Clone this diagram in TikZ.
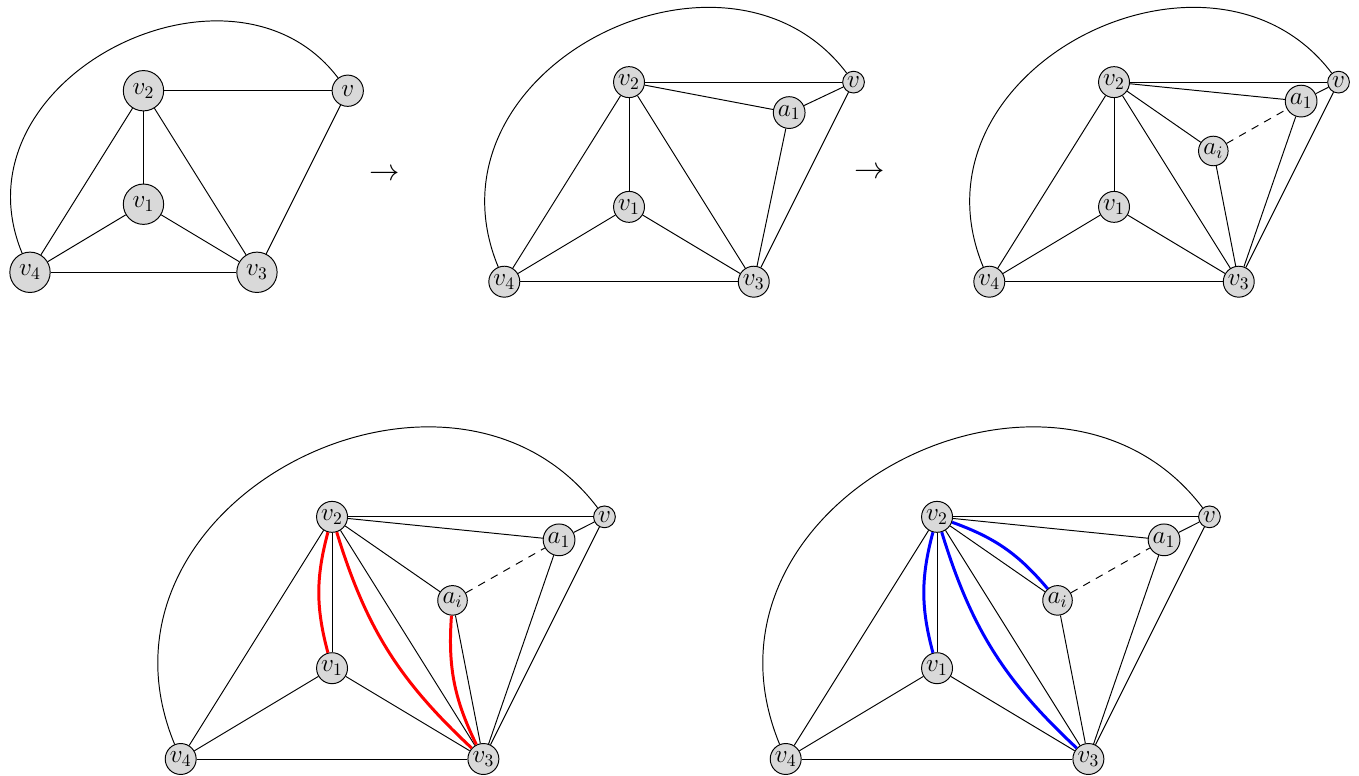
\documentclass[tikz,border=0pt]{standalone}
\usepackage{amsmath, amssymb}
\usepackage{xcolor}
\usepackage{tikz}
\usetikzlibrary{positioning, calc}

\begin{document}
\begin{tikzpicture}[
    x=0.02cm, y=0.02cm, line width=0.55pt,
    vtx/.style={draw, circle, fill=black!15, inner sep=1pt, font=\Large},
    bigvtx/.style={vtx, inner sep=2.9pt},
    outer/.style={line width=0.55pt},
    swap/.style={dash pattern=on 4.4pt off 3.8pt},
    redpath/.style={red, line width=1.7pt},
    bluepath/.style={blue, line width=1.7pt},
    step arrow/.style={font=\LARGE}
]
\useasboundingbox (0,0) rectangle (1359,775);

% first graph
\begin{scope}[shift={(30,502.7)}, x=0.908cm, y=0.908cm]
\node[bigvtx] (p1v4) at (0,0)     {$v_4$};
\node[bigvtx] (p1v3) at (5,0)     {$v_3$};
\node[bigvtx] (p1v1) at (2.5,1.5) {$v_1$};
\node[bigvtx] (p1v2) at (2.5,4)   {$v_2$};
\node[bigvtx] (p1v)  at (7,4)     {$v$};
\draw (p1v2) -- (p1v);
\draw (p1v2) -- (p1v1);
\draw (p1v2) -- (p1v4);
\draw (p1v2) -- (p1v3);
\draw (p1v1) -- (p1v4);
\draw (p1v1) -- (p1v3);
\draw (p1v4) -- (p1v3);
\draw (p1v)  -- (p1v3);
\draw[outer] (p1v4) .. controls (-1.76,4.26) and (4.45,7.37) .. (p1v);
\end{scope}

\node[step arrow] (arrA) at (385,600) {$\rightarrow$};

% after adding a_1
\begin{scope}[shift={(504.3,493.3)}, x=0.998cm, y=0.998cm]
\node[vtx] (p2v4) at (0,0)       {$v_4$};
\node[vtx] (p2v3) at (5,0)       {$v_3$};
\node[vtx] (p2v1) at (2.5,1.5)   {$v_1$};
\node[vtx] (p2v2) at (2.5,4)     {$v_2$};
\node[vtx] (p2v)  at (7,4)       {$v$};
\node[vtx] (p2a1) at (5.71,3.39) {$a_1$};
\draw (p2v2) -- (p2v);
\draw (p2v2) -- (p2a1);
\draw (p2a1) -- (p2v);
\draw (p2a1) -- (p2v3);
\draw (p2v2) -- (p2v1);
\draw (p2v2) -- (p2v4);
\draw (p2v2) -- (p2v3);
\draw (p2v1) -- (p2v4);
\draw (p2v1) -- (p2v3);
\draw (p2v4) -- (p2v3);
\draw (p2v)  -- (p2v3);
\draw[outer] (p2v4) .. controls (-1.76,4.26) and (4.45,7.37) .. (p2v);
\end{scope}

\node[step arrow] (arrB) at (870,602) {$\rightarrow$};

% after adding a_i
\begin{scope}[shift={(989.3,493.3)}, x=0.998cm, y=0.998cm]
\node[vtx] (p3v4) at (0,0)       {$v_4$};
\node[vtx] (p3v3) at (5,0)       {$v_3$};
\node[vtx] (p3v1) at (2.5,1.5)   {$v_1$};
\node[vtx] (p3v2) at (2.5,4)     {$v_2$};
\node[vtx] (p3v)  at (7,4)       {$v$};
\node[vtx] (p3a1) at (6.25,3.62) {$a_1$};
\node[vtx] (p3ai) at (4.49,2.62) {$a_i$};
\draw (p3v2) -- (p3v);
\draw (p3v2) -- (p3a1);
\draw (p3a1) -- (p3v);
\draw (p3a1) -- (p3v3);
\draw (p3v2) -- (p3ai);
\draw (p3ai) -- (p3v3);
\draw[swap] (p3ai) -- (p3a1);
\draw (p3v2) -- (p3v1);
\draw (p3v2) -- (p3v4);
\draw (p3v2) -- (p3v3);
\draw (p3v1) -- (p3v4);
\draw (p3v1) -- (p3v3);
\draw (p3v4) -- (p3v3);
\draw (p3v)  -- (p3v3);
\draw[outer] (p3v4) .. controls (-1.76,4.26) and (4.45,7.37) .. (p3v);
\end{scope}

% red paths
\begin{scope}[shift={(180.7,16)}, x=1.211cm, y=1.211cm]
\node[vtx] (p4v4) at (0,0)       {$v_4$};
\node[vtx] (p4v3) at (5,0)       {$v_3$};
\node[vtx] (p4v1) at (2.5,1.5)   {$v_1$};
\node[vtx] (p4v2) at (2.5,4)     {$v_2$};
\node[vtx] (p4v)  at (7,4)       {$v$};
\node[vtx] (p4a1) at (6.25,3.62) {$a_1$};
\node[vtx] (p4ai) at (4.49,2.62) {$a_i$};
\draw (p4v2) -- (p4v);
\draw (p4v2) -- (p4a1);
\draw (p4a1) -- (p4v);
\draw (p4a1) -- (p4v3);
\draw (p4v2) -- (p4ai);
\draw (p4ai) -- (p4v3);
\draw[swap] (p4ai) -- (p4a1);
\draw (p4v2) -- (p4v1);
\draw (p4v2) -- (p4v4);
\draw (p4v2) -- (p4v3);
\draw (p4v1) -- (p4v4);
\draw (p4v1) -- (p4v3);
\draw (p4v4) -- (p4v3);
\draw (p4v)  -- (p4v3);
\draw[outer] (p4v4) .. controls (-1.76,4.26) and (4.45,7.37) .. (p4v);
\draw[redpath] (p4v2) to[bend right=15] (p4v1);
\draw[redpath] (p4v2) to[bend right=15] (p4v3);
\draw[redpath] (p4ai) to[bend right=15] (p4v3);
\end{scope}

% blue paths
\begin{scope}[shift={(785.7,16)}, x=1.211cm, y=1.211cm]
\node[vtx] (p5v4) at (0,0)       {$v_4$};
\node[vtx] (p5v3) at (5,0)       {$v_3$};
\node[vtx] (p5v1) at (2.5,1.5)   {$v_1$};
\node[vtx] (p5v2) at (2.5,4)     {$v_2$};
\node[vtx] (p5v)  at (7,4)       {$v$};
\node[vtx] (p5a1) at (6.25,3.62) {$a_1$};
\node[vtx] (p5ai) at (4.49,2.62) {$a_i$};
\draw (p5v2) -- (p5v);
\draw (p5v2) -- (p5a1);
\draw (p5a1) -- (p5v);
\draw (p5a1) -- (p5v3);
\draw (p5v2) -- (p5ai);
\draw (p5ai) -- (p5v3);
\draw[swap] (p5ai) -- (p5a1);
\draw (p5v2) -- (p5v1);
\draw (p5v2) -- (p5v4);
\draw (p5v2) -- (p5v3);
\draw (p5v1) -- (p5v4);
\draw (p5v1) -- (p5v3);
\draw (p5v4) -- (p5v3);
\draw (p5v)  -- (p5v3);
\draw[outer] (p5v4) .. controls (-1.76,4.26) and (4.45,7.37) .. (p5v);
\draw[bluepath] (p5v2) to[bend right=15] (p5v1);
\draw[bluepath] (p5v2) to[bend right=15] (p5v3);
\draw[bluepath] (p5v2) to[bend left=15] (p5ai);
\end{scope}
\end{tikzpicture}
\end{document}
